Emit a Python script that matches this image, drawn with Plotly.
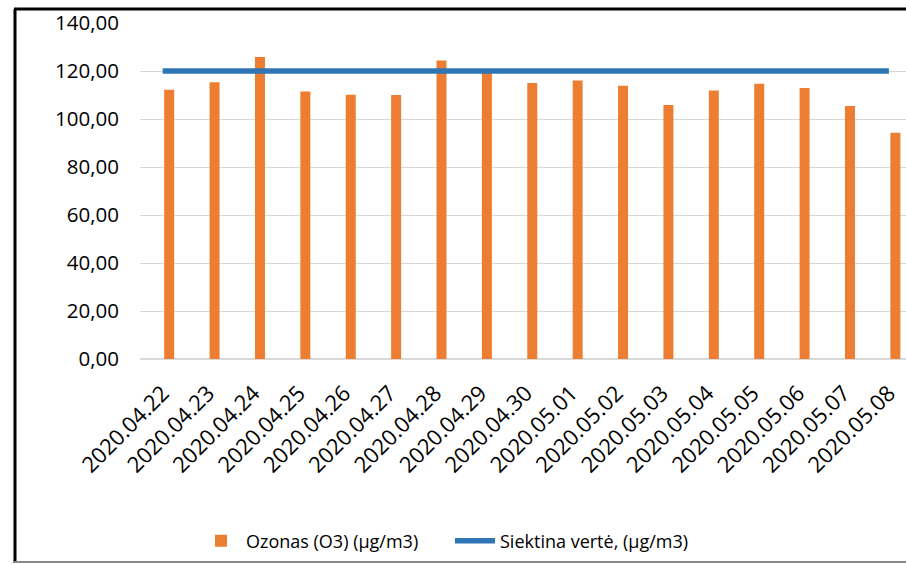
import plotly.graph_objects as go

dates = ["2020.04.22", "2020.04.23", "2020.04.24", "2020.04.25", "2020.04.26",
         "2020.04.27", "2020.04.28", "2020.04.29", "2020.04.30", "2020.05.01",
         "2020.05.02", "2020.05.03", "2020.05.04", "2020.05.05", "2020.05.06",
         "2020.05.07", "2020.05.08"]
ozone = [112.2, 115.3, 125.8, 111.5, 110.1, 110.0, 124.4, 119.5, 115.0, 116.0,
         113.9, 105.8, 111.9, 114.7, 112.9, 105.4, 94.3]
target = [120] * len(dates)

ozone_name = "Ozonas (O3) (µg/m3)"
target_name = "Siektina vertė, (µg/m3)"
y_ticks = [0, 20, 40, 60, 80, 100, 120, 140]

FONT = "Open Sans"

fig = go.Figure()
fig.add_trace(go.Bar(
    x=dates, y=ozone, name=ozone_name,
    marker=dict(color="#ED7D31", line=dict(width=0)),
    width=0.22, offset=0.033,
))
fig.add_trace(go.Scatter(
    x=dates, y=target, name=target_name, mode="lines",
    line=dict(color="#2E75B6", width=5.5),
))

W, H = 906, 564
L, R, T, B = 140, 0, 23, 205
pw, ph = W - L - R, H - T - B

def px(x):
    return (x - L) / pw

def py(y):
    return (H - B - y) / ph

fig.update_layout(
    width=W, height=H,
    margin=dict(l=L, r=R, t=T, b=B),
    paper_bgcolor="white", plot_bgcolor="white",
    font=dict(family=FONT, size=18, color="#000000"),
    separators=", ",
    showlegend=True,
    legend=dict(
        orientation="h", xref="container", yref="container",
        x=196 / W, xanchor="left", y=1 - 541 / H, yanchor="middle",
        font=dict(family=FONT, size=18, color="#000000"),
        itemwidth=40, entrywidth=199, traceorder="normal",
    ),
    xaxis=dict(
        type="category", range=[-0.5, 16.377],
        tickangle=-45, tickfont=dict(family=FONT, size=22),
        showgrid=False, zeroline=False, showline=False, ticks="",
        ticklabelstandoff=16,
    ),
    yaxis=dict(
        range=[0, 140], tickvals=y_ticks, tickformat=".2f",
        tickfont=dict(family=FONT, size=20.5),
        showgrid=True, gridcolor="#D9D9D9", gridwidth=1,
        zeroline=True, zerolinecolor="#D9D9D9", zerolinewidth=1.5,
        showline=False, ticks="", ticklabelstandoff=20,
    ),
    shapes=[
        dict(type="line", xref="paper", yref="paper", x0=px(15), x1=px(15), y0=py(9), y1=py(563),
             line=dict(color="#000000", width=3)),
        dict(type="line", xref="paper", yref="paper", x0=px(14), x1=px(906), y0=py(9), y1=py(9),
             line=dict(color="#000000", width=3)),
        dict(type="line", xref="paper", yref="paper", x0=px(14), x1=px(906), y0=py(562), y1=py(562),
             line=dict(color="#888888", width=2)),
    ],
)

fig.write_html("out.html", config={"displayModeBar": False},
               post_script="document.body.style.margin='0';")
